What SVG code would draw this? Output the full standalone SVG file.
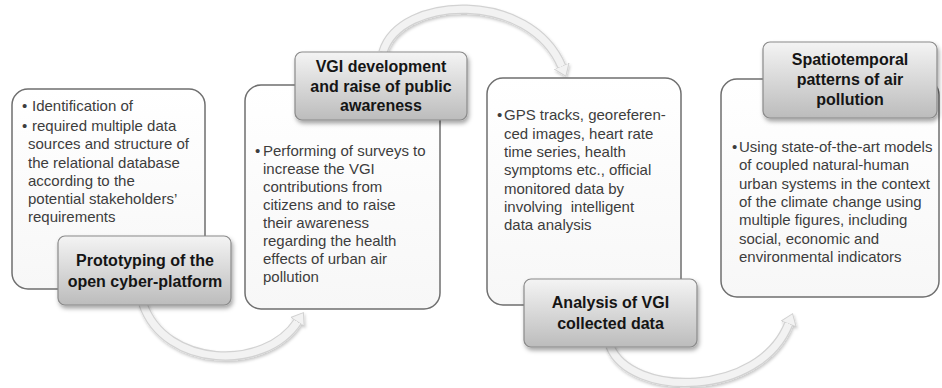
<svg xmlns="http://www.w3.org/2000/svg" width="942" height="388" viewBox="0 0 942 388">
<defs>
<linearGradient id="lblGrad" x1="0" y1="0" x2="0" y2="1">
<stop offset="0" stop-color="#f4f4f4"/>
<stop offset="1" stop-color="#bcbcbc"/>
</linearGradient>
<linearGradient id="boxGrad" x1="0" y1="0" x2="0" y2="1">
<stop offset="0" stop-color="#ffffff"/>
<stop offset="1" stop-color="#f7f7f7"/>
</linearGradient>
<filter id="shadow" x="-10%" y="-10%" width="125%" height="135%">
<feDropShadow dx="1.5" dy="3" stdDeviation="2" flood-color="#000" flood-opacity="0.35"/>
</filter>
<filter id="arcShadow" x="-10%" y="-10%" width="130%" height="140%">
<feDropShadow dx="1" dy="2" stdDeviation="1.5" flood-color="#000" flood-opacity="0.22"/>
</filter>
<marker id="head" markerUnits="userSpaceOnUse" viewBox="0 0 12 17" refX="1" refY="8.5" markerWidth="12" markerHeight="17" orient="auto">
<path d="M0,0.5 L11,8.5 L0,16.5 z" fill="#f2f2f2" stroke="#d2d2d2" stroke-width="1"/>
</marker>
</defs>
<style>
.box{fill:url(#boxGrad);stroke:#6f6f6f;stroke-width:1.5}
.lbl{fill:url(#lblGrad);stroke:#8a8a8a;stroke-width:1.2;filter:url(#shadow)}
.lt{font-family:"Liberation Sans",Arial,sans-serif;font-weight:bold;font-size:16px;fill:#151515;text-anchor:middle}
.bt{font-family:"Liberation Sans",Arial,sans-serif;font-size:15px;fill:#3d3d3d}
.arcO{fill:none;stroke:#d2d2d2;stroke-width:9.5;stroke-linecap:butt}
.arcI{fill:none;stroke:#f2f2f2;stroke-width:7;stroke-linecap:butt}
</style>

<g id="connectors" filter="url(#arcShadow)">
<path class="arcO" d="M143,304 C165,368 265,372 298,321"/>
<path class="arcI" d="M143,304 C165,368 265,372 298,321" marker-end="url(#head)"/>
<path class="arcO" d="M383,52 C400,-5 530,-10 562,67"/>
<path class="arcI" d="M383,52 C400,-5 530,-10 562,67" marker-end="url(#head)"/>
<path class="arcO" d="M610,346 C630,398 760,398 789,323"/>
<path class="arcI" d="M610,346 C630,398 760,398 789,323" marker-end="url(#head)"/>
</g>

<g id="node1">
<rect class="box" x="12" y="89" width="193" height="200" rx="16"/>
<text class="bt" x="22" y="110.5">•</text>
<text class="bt" x="32" y="110.5">Identification of</text>
<text class="bt" x="22" y="131">•</text>
<text class="bt" x="32" y="131">required multiple data</text>
<text class="bt" x="28" y="149">sources and structure of</text>
<text class="bt" x="28" y="167.5">the relational database</text>
<text class="bt" x="28" y="186">according to the</text>
<text class="bt" x="28" y="204">potential stakeholders’</text>
<text class="bt" x="28" y="222">requirements</text>
<rect class="lbl" x="58" y="236" width="173" height="69" rx="7"/>
<text class="lt" x="145" y="266">Prototyping of the</text>
<text class="lt" x="145" y="287">open cyber-platform</text>
</g>

<g id="node2">
<rect class="box" x="245" y="85" width="195" height="224" rx="16"/>
<text class="bt" x="255" y="156">•</text>
<text class="bt" x="263" y="156">Performing of surveys to</text>
<text class="bt" x="263" y="174">increase the VGI</text>
<text class="bt" x="263" y="192">contributions from</text>
<text class="bt" x="263" y="210">citizens and to raise</text>
<text class="bt" x="263" y="228">their awareness</text>
<text class="bt" x="263" y="246">regarding the health</text>
<text class="bt" x="263" y="264">effects of urban air</text>
<text class="bt" x="263" y="282">pollution</text>
<rect class="lbl" x="295" y="52" width="172" height="68" rx="7"/>
<text class="lt" x="381" y="72">VGI development</text>
<text class="lt" x="381" y="92">and raise of public</text>
<text class="lt" x="381" y="111">awareness</text>
</g>

<g id="node3">
<rect class="box" x="487" y="78" width="194" height="227" rx="16"/>
<text class="bt" x="497" y="120">•</text>
<text class="bt" x="504" y="120">GPS tracks, georeferen-</text>
<text class="bt" x="504" y="138.5">ced images, heart rate</text>
<text class="bt" x="504" y="157">time series, health</text>
<text class="bt" x="504" y="175">symptoms etc., official</text>
<text class="bt" x="504" y="193.5">monitored data by</text>
<text class="bt" x="504" y="212" xml:space="preserve">involving  intelligent</text>
<text class="bt" x="504" y="230">data analysis</text>
<rect class="lbl" x="524" y="279" width="173" height="68" rx="7"/>
<text class="lt" x="610.5" y="308">Analysis of VGI</text>
<text class="lt" x="610.5" y="329">collected data</text>
</g>

<g id="node4">
<rect class="box" x="721" y="79" width="218" height="218" rx="16"/>
<text class="bt" x="732" y="151.5">•</text>
<text class="bt" x="739" y="151.5">Using state-of-the-art models</text>
<text class="bt" x="739" y="170">of coupled natural-human</text>
<text class="bt" x="739" y="188.5">urban systems in the context</text>
<text class="bt" x="739" y="207">of the climate change using</text>
<text class="bt" x="739" y="225">multiple figures, including</text>
<text class="bt" x="739" y="243.5">social, economic and</text>
<text class="bt" x="739" y="262">environmental indicators</text>
<rect class="lbl" x="763" y="42" width="174" height="76" rx="7"/>
<text class="lt" x="850" y="65">Spatiotemporal</text>
<text class="lt" x="850" y="85">patterns of air</text>
<text class="lt" x="850" y="105">pollution</text>
</g>
</svg>
